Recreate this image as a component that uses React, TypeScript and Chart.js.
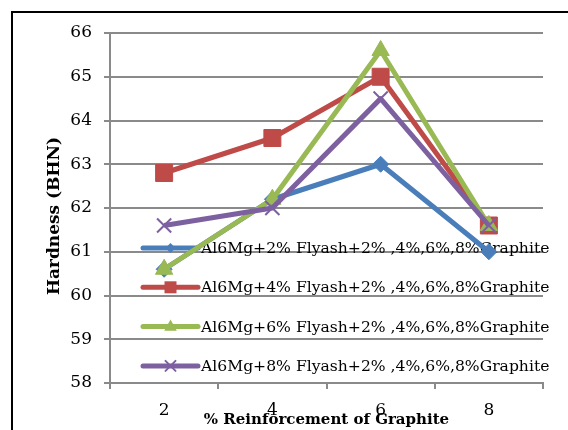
import React, { useEffect, useRef } from "react";
import { Chart, registerables } from "chart.js";

Chart.register(...registerables);

const categories = ["2", "4", "6", "8"];
const seriesNames = [
  "Al6Mg+2% Flyash+2% ,4%,6%,8%Graphite",
  "Al6Mg+4% Flyash+2% ,4%,6%,8%Graphite",
  "Al6Mg+6% Flyash+2% ,4%,6%,8%Graphite",
  "Al6Mg+8% Flyash+2% ,4%,6%,8%Graphite",
];
const flyash2 = [60.6, 62.2, 63.0, 61.0];
const flyash4 = [62.8, 63.6, 65.0, 61.6];
const flyash6 = [60.6, 62.2, 65.6, 61.6];
const flyash8 = [61.6, 62.0, 64.5, 61.6];
const yMin = 58;
const yMax = 66;
const yTitle = "Hardness (BHN)";
const xTitle = "% Reinforcement of Graphite";

const colors = ["#4A7EBB", "#BE4B48", "#98B954", "#7D60A0"];
const styles = ["rectRot", "rect", "triangle", "crossRot"];
const FONT = "'DejaVu Serif', serif";

function drawMarker(ctx: CanvasRenderingContext2D, style: string, x: number, y: number, r: number, color: string) {
  ctx.save();
  ctx.fillStyle = color;
  ctx.strokeStyle = color;
  ctx.beginPath();
  if (style === "rectRot") {
    ctx.moveTo(x, y - r);
    ctx.lineTo(x + r, y);
    ctx.lineTo(x, y + r);
    ctx.lineTo(x - r, y);
    ctx.closePath();
    ctx.fill();
  } else if (style === "rect") {
    ctx.rect(x - r, y - r, 2 * r, 2 * r);
    ctx.fill();
  } else if (style === "triangle") {
    ctx.moveTo(x, y - r);
    ctx.lineTo(x + r * 0.9, y + r * 0.6);
    ctx.lineTo(x - r * 0.9, y + r * 0.6);
    ctx.closePath();
    ctx.fill();
  } else {
    ctx.lineWidth = 2;
    ctx.moveTo(x - r, y - r);
    ctx.lineTo(x + r, y + r);
    ctx.moveTo(x + r, y - r);
    ctx.lineTo(x - r, y + r);
    ctx.stroke();
  }
  ctx.restore();
}

const legendPlugin = {
  id: "insideLegend",
  beforeDatasetsDraw(chart: any) {
    const { ctx, chartArea } = chart;
    const x0 = chartArea.left + 33;
    const lineLen = 55;
    const top = chartArea.top + 215;
    const gap = 39.3;
    const markerR = [5, 6, 7, 5];
    ctx.save();
    for (let i = 0; i < seriesNames.length; i++) {
      const y = top + i * gap;
      ctx.strokeStyle = colors[i];
      ctx.lineWidth = 5;
      ctx.lineCap = "round";
      ctx.beginPath();
      ctx.moveTo(x0, y);
      ctx.lineTo(x0 + lineLen, y);
      ctx.stroke();
      drawMarker(ctx, styles[i], x0 + lineLen / 2, y, markerR[i], colors[i]);
      ctx.fillStyle = "#000";
      ctx.font = `15.6px ${FONT}`;
      ctx.textBaseline = "middle";
      ctx.textAlign = "left";
      ctx.fillText(seriesNames[i], x0 + lineLen + 3, y + 1);
    }
    ctx.restore();
  },
};

const decorPlugin = {
  id: "decor",
  afterDraw(chart: any) {
    const { ctx, chartArea } = chart;
    ctx.save();
    // y axis title, drawn slightly below the plot centre as in the reference
    ctx.translate(55, (chartArea.top + chartArea.bottom) / 2 + 8);
    ctx.rotate(-Math.PI / 2);
    ctx.fillStyle = "#000";
    ctx.font = `bold 17px ${FONT}`;
    ctx.textAlign = "center";
    ctx.textBaseline = "middle";
    ctx.fillText(yTitle, 0, 0);
    ctx.restore();
    ctx.save();
    ctx.strokeStyle = "#000";
    ctx.lineWidth = 2;
    ctx.strokeRect(12, 12, 700, 700);
    ctx.restore();
  },
};

export default function App() {
  const ref = useRef<HTMLCanvasElement>(null);
  useEffect(() => {
    const canvas = ref.current;
    if (!canvas) return;
    const all = [flyash2, flyash4, flyash6, flyash8];
    const radii = [8, 12, 10, 10];
    const chart = new Chart(canvas, {
      type: "line",
      data: {
        labels: categories,
        datasets: all.map((d, i) => ({
          label: seriesNames[i],
          data: d,
          borderColor: colors[i],
          backgroundColor: colors[i],
          borderWidth: 5,
          pointStyle: styles[i] as any,
          pointRadius: radii[i],
          pointBorderWidth: i === 3 ? 2 : 1,
          pointBackgroundColor: colors[i],
          pointBorderColor: colors[i],
          borderJoinStyle: "round" as any,
          tension: 0,
          order: 3 - i,
        })),
      },
      options: {
        responsive: false,
        animation: false,
        events: [],
        layout: { padding: { left: 0, right: 25, top: 33, bottom: 0 } },
        plugins: { legend: { display: false }, tooltip: { enabled: false } },
        scales: {
          x: {
            type: "category",
            offset: true,
            afterFit: (s: any) => { s.height = 47; },
            grid: { offset: true, drawOnChartArea: false, drawTicks: true, tickLength: 6, color: "#8a8a8a", lineWidth: 2 },
            border: { color: "#8a8a8a", width: 2 },
            ticks: { color: "#000", font: { family: FONT, size: 17 }, padding: 11 },
            title: { display: true, text: xTitle, color: "#000", font: { family: FONT, size: 15, weight: "bold" }, padding: { top: 0, bottom: 1 } },
          },
          y: {
            min: yMin,
            max: yMax,
            afterFit: (s: any) => { s.width = 110; },
            grid: { color: "#8a8a8a", lineWidth: 2, drawTicks: true, tickLength: 6 },
            border: { color: "#8a8a8a", width: 2 },
            ticks: { stepSize: 1, color: "#000", font: { family: FONT, size: 17 }, padding: 12 },
          },
        },
      },
      plugins: [legendPlugin, decorPlugin],
    });
    return () => chart.destroy();
  }, []);
  return (
    <div style={{ position: "fixed", left: 0, top: 0, width: 568, height: 430, background: "#fff" }}>
      <canvas ref={ref} width={568} height={430} style={{ display: "block" }} />
    </div>
  );
}
